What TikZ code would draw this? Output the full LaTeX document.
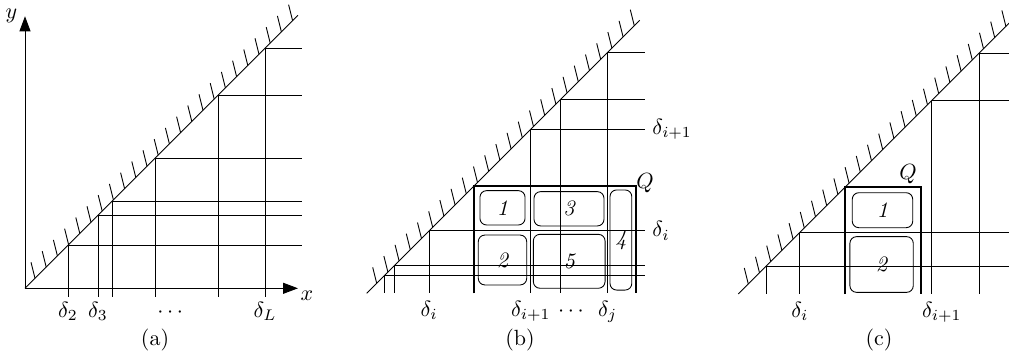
\documentclass[tikz,border=0pt]{standalone}
\usetikzlibrary{arrows.meta}

\tikzset{
  cell/.style={draw, rounded corners=3pt, inner sep=0pt, font=\itshape},
  region/.style={line width=0.9pt},
  axis/.style={-{Triangle[length=6.8pt,width=5pt]}},
}

\begin{document}
\begin{tikzpicture}[x=4.545pt,y=4.545pt]
  \useasboundingbox (0,0) rectangle (100.9,35.9);

  % ---------- (a) ----------
  \begin{scope}[shift={(2.5,7.07)}]
    % Draw axes
    \draw[axis] (0,0) -- (27.3,0) node[anchor=north west,inner sep=1pt] (xa) {$x$};
    \draw[axis] (0,0) -- (0,27.2) node[left] (ya) {$y$};

    % Draw hatched boundary
    \draw (0,0) -- (27.3,27.3);
    \foreach \k in {0,...,23} {
      \draw ({1+1.12*\k},{1+1.12*\k}) -- ++(-0.4,1.6);
    }

    % Draw grid lines
    \foreach \t in {4.3,7.3,8.7,13.0,19.3,24.0} {
      \draw (\t,\t) -- (27.7,\t);
      \draw (\t,\t) -- (\t,-0.9);
    }

    % Add labels
    \node[below,inner sep=2pt] (a2) at (4.3,-0.9) {$\delta_2$};
    \node[below,inner sep=2pt] (a3) at (7.3,-0.9) {$\delta_3$};
    \node[below,inner sep=2pt] (adots) at (14.7,-0.9) {$\cdots\vphantom{\delta_L}$};
    \node[below,inner sep=2pt] (aL) at (24.0,-0.9) {$\delta_L$};
    \node (capa) at (13.0,-5.17) {(a)};
  \end{scope}

  % ---------- (b) ----------
  \begin{scope}[shift={(36.67,6.57)}]
    % Draw hatched boundary
    \draw (0,0) -- (27.3,27.3);
    \foreach \k in {0,...,23} {
      \draw ({1+1.12*\k},{1+1.12*\k}) -- ++(-0.4,1.6);
    }

    % Draw grid lines
    \foreach \t in {1.8,2.8,6.25,16.4,19.4,24.1} {
      \draw (\t,\t) -- (27.8,\t);
      \draw (\t,\t) -- (\t,0);
    }

    % Draw region Q
    \draw[region] (10.76,0) -- (10.76,10.76) -- (26.93,10.76) -- (26.93,0);
    \node (qb) at (27.83,11.03) {$Q$};

    % Draw cells
    \node[cell,minimum width=20.5pt,minimum height=15.6pt] (b1) at (13.58,8.55) {1};
    \node[cell,minimum width=31.8pt,minimum height=15.6pt] (b3) at (20.23,8.45) {3};
    \node[cell,minimum width=9.9pt,minimum height=45.5pt] (b4) at (25.42,5.33) {4};
    \node[cell,minimum width=22pt,minimum height=22.7pt] (b2) at (13.58,3.33) {2};
    \node[cell,minimum width=32.6pt,minimum height=24.5pt] (b5) at (20.25,3.2) {5};

    % Add labels
    \node[right] (bh1) at (27.8,16.4) {$\delta_{i+1}$};
    \node[right] (bh0) at (27.8,6.25) {$\delta_i$};
    \node[below] (bv0) at (6.25,0) {$\delta_i$};
    \node[below] (bv1) at (16.4,0) {$\delta_{i+1}$};
    \node[below] (bdots) at (20.6,0) {$\cdots\vphantom{\delta_j}$};
    \node[below] (bvj) at (24.1,0) {$\delta_j$};
    \node (capb) at (15.33,-4.67) {(b)};
  \end{scope}

  % ---------- (c) ----------
  \begin{scope}[shift={(73.83,6.5)}]
    % Draw hatched boundary
    \draw (0,0) -- (27.3,27.3);
    \foreach \k in {0,...,23} {
      \draw ({1+1.12*\k},{1+1.12*\k}) -- ++(-0.4,1.6);
    }

    % Draw grid lines
    \foreach \t in {2.8,6.15,19.35,24.1} {
      \draw (\t,\t) -- (27.6,\t);
      \draw (\t,\t) -- (\t,0);
    }

    % Draw region Q
    \draw[region] (10.68,0) -- (10.68,10.68) -- (18.24,10.68) -- (18.24,0);
    \node (qc) at (16.97,12.0) {$Q$};

    % Draw cells
    \node[cell,minimum width=27.5pt,minimum height=15.9pt] (c1) at (14.42,8.38) {1};
    \node[cell,minimum width=28.8pt,minimum height=25.3pt] (c2) at (14.33,2.95) {2};

    % Add labels
    \node[below] (cv0) at (6.15,0) {$\delta_i$};
    \node[below,xshift=4.5pt] (cv1) at (19.35,0) {$\delta_{i+1}$};
    \node (capc) at (14.07,-4.6) {(c)};
  \end{scope}
\end{tikzpicture}
\end{document}
